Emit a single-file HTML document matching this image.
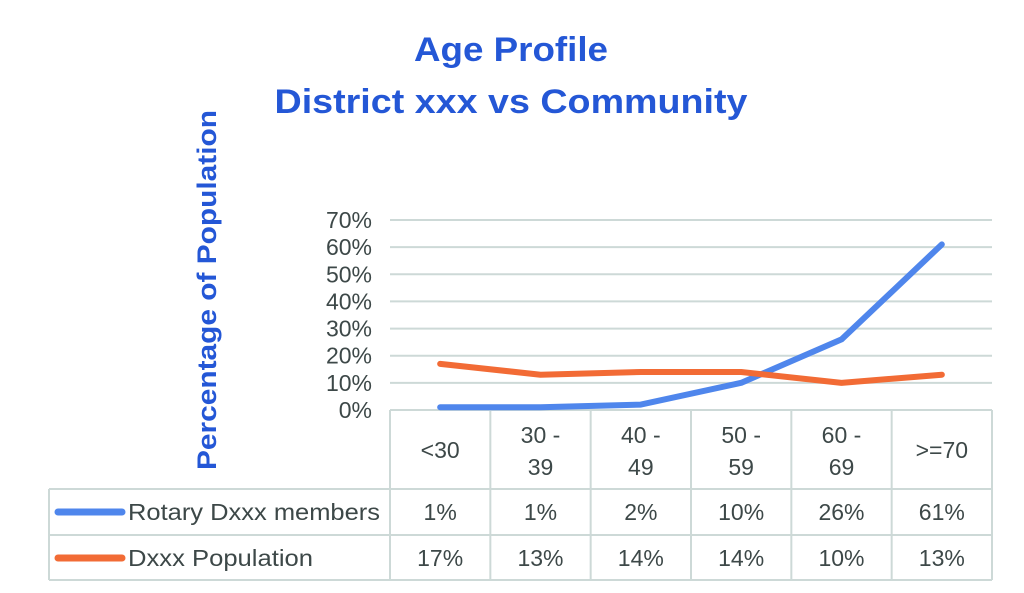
<!DOCTYPE html>
<html><head><meta charset="utf-8"><style>
html,body{margin:0;padding:0;background:#fff;}
svg{display:block;font-family:"Liberation Sans",sans-serif;}
</style></head><body>
<svg id="chart" width="1024" height="593" viewBox="0 0 1024 593">
<text x="511" y="61" text-anchor="middle" font-size="34" font-weight="bold" fill="#2457d6" textLength="194" lengthAdjust="spacingAndGlyphs">Age Profile</text>
<text x="511" y="113" text-anchor="middle" font-size="34" font-weight="bold" fill="#2457d6" textLength="473" lengthAdjust="spacingAndGlyphs">District xxx vs Community</text>
<text transform="translate(216,290) rotate(-90)" text-anchor="middle" font-size="27" font-weight="bold" fill="#2457d6" textLength="360" lengthAdjust="spacingAndGlyphs">Percentage of Population</text>
<g id="grid"></g><g id="table"></g><g id="lines"></g>
</svg>
<script>
const categories=["<30","30 -|39","40 -|49","50 -|59","60 -|69",">=70"];
const rotaryValues=[1,1,2,10,26,61];
const populationValues=[17,13,14,14,10,13];
const yTicks=[0,10,20,30,40,50,60,70];
const seriesNames=["Rotary Dxxx members","Dxxx Population"];
const NS="http://www.w3.org/2000/svg";
const X0=390,X1=992,Y0=410,Y1=220,YMAX=70;
const colW=(X1-X0)/categories.length;
const xPos=i=>X0+colW*(i+0.5);
const yPos=v=>Y0-(v/YMAX)*(Y0-Y1);
function mk(tag,attrs,parent){const e=document.createElementNS(NS,tag);for(const k in attrs)e.setAttribute(k,attrs[k]);parent.appendChild(e);return e;}
const grid=document.getElementById('grid'),table=document.getElementById('table'),lines=document.getElementById('lines');
const gc="#cdd9d7",tc="#3d4848",FS=23;
yTicks.forEach(t=>{
  const l=mk('line',{x1:X0,x2:X1,y1:yPos(t),y2:yPos(t),stroke:gc,'stroke-width':2},grid);
  
  
  const tx=mk('text',{x:372,y:yPos(t)+8,'text-anchor':'end','font-size':FS,fill:tc},grid);
  tx.textContent=t+'%';
  
  
});
const tb=[[X0,410,X0,580],[X1,410,X1,580],[49,489,X1,489],[49,535,X1,535],[49,580,X1,580],[49,489,49,580]];
tb.forEach(a=>{const l=mk('line',{x1:a[0],y1:a[1],x2:a[2],y2:a[3],stroke:gc,'stroke-width':2},table);
  
  });
categories.forEach((c,i)=>{
  if(i>0){const l=mk('line',{x1:X0+colW*i,x2:X0+colW*i,y1:410,y2:580,stroke:gc,'stroke-width':2},table);
    
    }
  const parts=c.split('|');
  parts.forEach((p,j)=>{
    const y=parts.length==1?458:443+j*32;
    const t=mk('text',{x:xPos(i),y:y,'text-anchor':'middle','font-size':FS,fill:tc},table);
    t.textContent=p;
    
    
  });
  [[rotaryValues,520],[populationValues,566]].forEach(([arr,y])=>{
    const t=mk('text',{x:xPos(i),y:y,'text-anchor':'middle','font-size':FS,fill:tc},table);
    t.textContent=arr[i]+'%';
    
    
  });
});
const colors=["#4f86ec","#f26b35"];
const legendLens=[252,185];
[rotaryValues,populationValues].forEach((arr,s)=>{
  const ry=s==0?512:558;
  const k=mk('line',{x1:58,x2:122,y1:ry,y2:ry,stroke:colors[s],'stroke-width':7,'stroke-linecap':'round'},table);
  
  
  const n=mk('text',{x:128,y:ry+8,'font-size':FS,fill:tc,textLength:legendLens[s],lengthAdjust:'spacingAndGlyphs'},table);
  n.textContent=seriesNames[s];
  
  
  const p=mk('polyline',{points:arr.map((v,i)=>xPos(i)+','+yPos(v)).join(' '),fill:'none',stroke:colors[s],'stroke-width':6,'stroke-linecap':'round','stroke-linejoin':'round'},lines);
  
  
});
</script>
</body></html>
